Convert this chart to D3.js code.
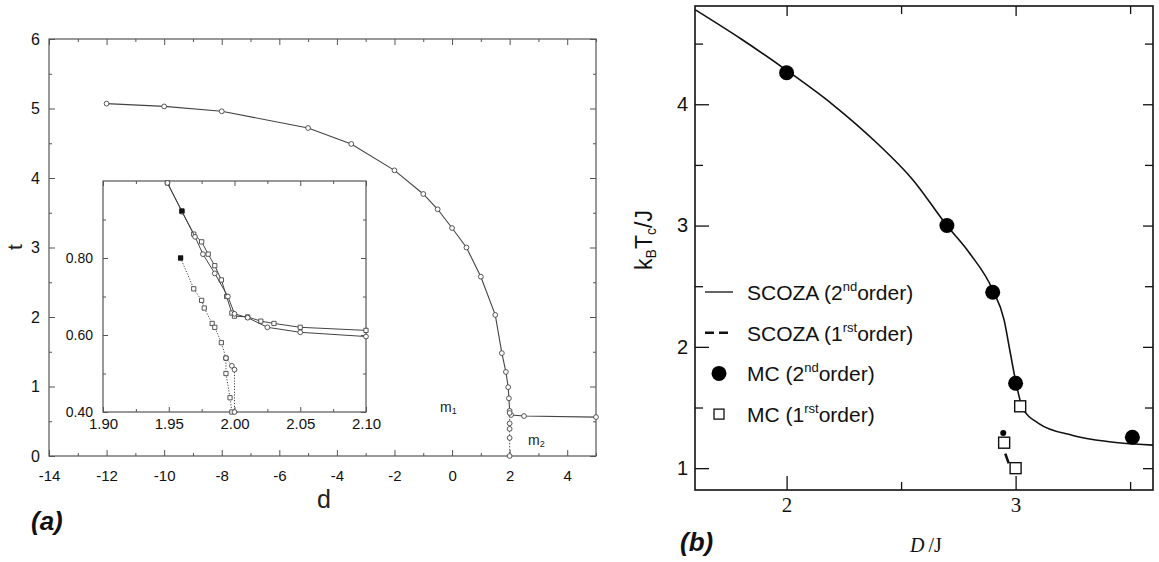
<!DOCTYPE html>
<html>
<head>
<meta charset="utf-8">
<script src="https://cdn.jsdelivr.net/npm/d3@7/dist/d3.min.js"></script>
<style>
  body { margin: 0; background: #fff; }
  svg text { font-family: "Liberation Sans", Arial, sans-serif; }
</style>
</head>
<body>
<div id="container"></div>
<script>
// ---- panel (a): t vs d ----
const mainD = [-12, -10, -8, -5, -3.5, -2, -1, -0.5, 0, 0.5, 1, 1.5, 1.73, 1.87, 1.95, 1.975, 2.0, 2.05, 2.5, 5];
const mainT = [5.07, 5.03, 4.96, 4.72, 4.49, 4.11, 3.77, 3.55, 3.28, 3.0, 2.58, 2.03, 1.48, 1.21, 0.99, 0.83, 0.65, 0.59, 0.575, 0.56];
const m2D = [2, 2, 2, 2, 2];
const m2T = [0.62, 0.47, 0.39, 0.26, 0];

// inset curves
const insAx = [1.949, 1.960, 1.969, 1.975, 1.980, 1.985, 1.990, 1.994, 1.998, 2.000, 2.010, 2.020, 2.030, 2.050, 2.100];
const insAy = [0.995, 0.922, 0.862, 0.842, 0.81, 0.78, 0.743, 0.70, 0.657, 0.649, 0.647, 0.636, 0.63, 0.62, 0.612];
const insBx = [1.949, 1.960, 1.970, 1.976, 1.985, 1.995, 2.000, 2.010, 2.025, 2.050, 2.100];
const insBy = [0.995, 0.92, 0.855, 0.81, 0.76, 0.70, 0.655, 0.645, 0.62, 0.607, 0.596];
const insCx = [1.959, 1.969, 1.975, 1.977, 1.983, 1.985, 1.990, 1.9935, 1.9935, 1.9966, 1.998];
const insCy = [0.80, 0.72, 0.69, 0.67, 0.63, 0.62, 0.58, 0.54, 0.50, 0.437, 0.40];
const insDx = [1.9935, 1.998, 2.000, 2.000];
const insDy = [0.54, 0.52, 0.51, 0.40];

// ---- panel (b): kBTc/J vs D/J ----
const scozaX = [1.6, 1.8, 2.0, 2.2, 2.4, 2.55, 2.7, 2.8, 2.9, 2.95, 2.975, 3.0, 3.03, 3.1, 3.25, 3.4, 3.6];
const scozaY = [4.78, 4.54, 4.28, 4.0, 3.67, 3.38, 3.0, 2.77, 2.47, 2.22, 1.97, 1.72, 1.50, 1.37, 1.27, 1.22, 1.19];
const scoza1X = [2.955, 2.97];
const scoza1Y = [1.12, 1.04];
const mc2X = [2.0, 2.7, 2.9, 3.0, 3.51];
const mc2Y = [4.26, 3.0, 2.45, 1.70, 1.255];
const mc1X = [3.02, 2.95, 3.0];
const mc1Y = [1.51, 1.21, 1.0];
const mcSmallX = [2.946];
const mcSmallY = [1.29];

const zip = (a, b) => a.map((v, i) => [v, b[i]]);
const plain = d => String(d);   // hyphen minus, as in the original

const svg = d3.select("#container").append("svg")
  .attr("width", 1159).attr("height", 562);

// draw a boxed frame with inward ticks on all four sides
function frame(x, y, o) {
  const g = svg.append("g");
  const [x0, x1] = x.range(), [y0, y1] = y.range();
  const sides = [
    [d3.axisBottom(x), `translate(0,${y0})`, o.xMajor, o.xMinor, true],
    [d3.axisTop(x), `translate(0,${y1})`, o.xMajor, o.xMinor, false],
    [d3.axisLeft(y), `translate(${x0},0)`, o.yMajor, o.yMinor, true],
    [d3.axisRight(y), `translate(${x1},0)`, o.yMajor, o.yMinor, false]
  ];
  sides.forEach(([ax, tr, major, minor, lab], i) => {
    const isX = i < 2;
    const a = g.append("g").attr("transform", tr)
      .call(ax.tickValues(minor).tickSize(-o.minorLen).tickFormat(""));
    a.select(".domain").remove();
    a.selectAll("line").attr("stroke", o.color).attr("stroke-width", o.tickW);
    const fmt = lab ? (isX ? o.fmtX : o.fmtY) : () => "";
    const len = lab ? o.majorLen : (o.majorLen2 || o.majorLen);
    const b = g.append("g").attr("transform", tr)
      .call(ax.tickValues(major).tickSize(-len)
        .tickPadding(isX ? o.padX : o.padY).tickFormat(fmt));
    b.select(".domain").remove();
    b.selectAll("line").attr("stroke", o.color).attr("stroke-width", o.tickW);
    b.selectAll("text")
      .attr("fill", "#111")
      .style("font-family", isX ? o.fontX : o.fontY)
      .style("font-size", (isX ? o.sizeX : o.sizeY) + "px");
  });
  g.append("rect")
    .attr("x", x0).attr("y", y1)
    .attr("width", x1 - x0).attr("height", y0 - y1)
    .attr("fill", "none").attr("stroke", o.color).attr("stroke-width", o.frameW);
  return g;
}

// ================= panel (a) =================
const xL = d3.scaleLinear().domain([-14, 5]).range([49, 596]);
const yL = d3.scaleLinear().domain([0, 6]).range([456, 39]);

frame(xL, yL, {
  xMajor: d3.range(-14, 5, 2), xMinor: d3.range(-13, 6, 2),
  yMajor: d3.range(0, 7, 1), yMinor: d3.range(0.5, 6, 1),
  majorLen: 6, minorLen: 3, padX: 14, padY: 9, tickW: 1, frameW: 1.2,
  color: "#555", fmtX: plain, fmtY: plain,
  fontX: "Liberation Sans", fontY: "Liberation Sans", sizeX: 15, sizeY: 16
});

const lineL = d3.line().x(d => xL(d[0])).y(d => yL(d[1]));
svg.append("path").datum(zip(mainD, mainT))
  .attr("d", lineL).attr("fill", "none").attr("stroke", "#444").attr("stroke-width", 1.1);
svg.append("path").datum(zip(m2D, m2T))
  .attr("d", lineL).attr("fill", "none").attr("stroke", "#555").attr("stroke-width", 1)
  .attr("stroke-dasharray", "1.5,1.5");
svg.append("g").selectAll("circle").data(zip(mainD, mainT).concat(zip(m2D, m2T)))
  .join("circle")
  .attr("cx", d => xL(d[0])).attr("cy", d => yL(d[1])).attr("r", 2.4)
  .attr("fill", "#fff").attr("stroke", "#444").attr("stroke-width", 0.9);

svg.append("text").attr("transform", "translate(22,247) rotate(-90)")
  .attr("text-anchor", "middle").style("font-size", "21px").attr("fill", "#222").text("t");
svg.append("text").attr("x", 324).attr("y", 508)
  .attr("text-anchor", "middle").style("font-size", "25px").attr("fill", "#222").text("d");
svg.append("text").attr("x", 31).attr("y", 530)
  .style("font-size", "26px").style("font-weight", "bold").style("font-style", "italic")
  .attr("fill", "#111").text("(a)");

const m1 = svg.append("text").attr("x", 440).attr("y", 412).style("font-size", "14px").attr("fill", "#222");
m1.append("tspan").text("m");
m1.append("tspan").attr("baseline-shift", "-25%").style("font-size", "9px").text("1");
const m2 = svg.append("text").attr("x", 528).attr("y", 445).style("font-size", "14px").attr("fill", "#222");
m2.append("tspan").text("m");
m2.append("tspan").attr("baseline-shift", "-25%").style("font-size", "9px").text("2");

// ---- inset ----
const xI = d3.scaleLinear().domain([1.9, 2.1]).range([103, 366]);
const yI = d3.scaleLinear().domain([0.4, 1.0]).range([412, 181]);

svg.append("rect").attr("x", 103).attr("y", 181).attr("width", 263).attr("height", 231).attr("fill", "#fff");
frame(xI, yI, {
  xMajor: [1.9, 1.95, 2.0, 2.05, 2.1], xMinor: [1.925, 1.975, 2.025, 2.075],
  yMajor: [0.4, 0.6, 0.8], yMinor: [0.5, 0.7, 0.9],
  majorLen: 5, minorLen: 3, padX: 6, padY: 10, tickW: 1, frameW: 1.2,
  color: "#555", fmtX: d3.format(".2f"), fmtY: d3.format(".2f"),
  fontX: "Liberation Sans", fontY: "Liberation Sans", sizeX: 15, sizeY: 14
});

const lineI = d3.line().x(d => xI(d[0])).y(d => yI(d[1]));
const insets = [
  [zip(insAx, insAy), null, "square"],
  [zip(insBx, insBy), null, "circle"],
  [zip(insCx, insCy), "1.2,1.6", "square"],
  [zip(insDx, insDy), "1.2,1.6", "circle"]
];
insets.forEach(([pts, dash, shape]) => {
  svg.append("path").datum(pts).attr("d", lineI)
    .attr("fill", "none").attr("stroke", "#444").attr("stroke-width", 1)
    .attr("stroke-dasharray", dash);
  svg.append("g").selectAll("path").data(pts).join("path")
    .attr("d", d3.symbol().type(shape === "square" ? d3.symbolSquare : d3.symbolCircle).size(18))
    .attr("transform", d => `translate(${xI(d[0])},${yI(d[1])})`)
    .attr("fill", "#fff").attr("stroke", "#444").attr("stroke-width", 0.9);
});
// filled markers at the start of the two branches
svg.append("g").selectAll("rect").data([[insAx[1], insAy[1]], [insCx[0], insCy[0]]]).join("rect")
  .attr("x", d => xI(d[0]) - 2.5).attr("y", d => yI(d[1]) - 2.5)
  .attr("width", 5).attr("height", 5).attr("fill", "#111");

// ================= panel (b) =================
const xR = d3.scaleLinear().domain([1.6, 3.6]).range([695, 1153]);
const yR = d3.scaleLinear().domain([0.82, 4.81]).range([490, 6]);

svg.append("defs").append("clipPath").attr("id", "clipR")
  .append("rect").attr("x", 695).attr("y", 6).attr("width", 458).attr("height", 484);

frame(xR, yR, {
  xMajor: [2, 3], xMinor: [2.5, 3.5],
  yMajor: [1, 2, 3, 4], yMinor: [1.5, 2.5, 3.5, 4.5],
  majorLen: 14, majorLen2: 10, minorLen: 8, padX: 7, padY: 7, tickW: 1.3, frameW: 1.6,
  color: "#111", fmtX: plain, fmtY: plain,
  fontX: "Liberation Serif", fontY: "Liberation Sans", sizeX: 21, sizeY: 20
});

const lineR = d3.line().x(d => xR(d[0])).y(d => yR(d[1]));
svg.append("path").datum(zip(scozaX, scozaY))
  .attr("clip-path", "url(#clipR)")
  .attr("d", lineR.curve(d3.curveMonotoneX))
  .attr("fill", "none").attr("stroke", "#111").attr("stroke-width", 1.6);
svg.append("path").datum(zip(scoza1X, scoza1Y))
  .attr("d", d3.line().x(d => xR(d[0])).y(d => yR(d[1])))
  .attr("fill", "none").attr("stroke", "#111").attr("stroke-width", 2.6);

svg.append("g").selectAll("circle").data(zip(mc2X, mc2Y)).join("circle")
  .attr("cx", d => xR(d[0])).attr("cy", d => yR(d[1])).attr("r", 7.5).attr("fill", "#000");
svg.append("g").selectAll("circle").data(zip(mcSmallX, mcSmallY)).join("circle")
  .attr("cx", d => xR(d[0])).attr("cy", d => yR(d[1])).attr("r", 3).attr("fill", "#000");
svg.append("g").selectAll("rect").data(zip(mc1X, mc1Y)).join("rect")
  .attr("x", d => xR(d[0]) - 5.5).attr("y", d => yR(d[1]) - 5.5)
  .attr("width", 11).attr("height", 11)
  .attr("fill", "#fff").attr("stroke", "#111").attr("stroke-width", 1.4);

// axis titles
const yt = svg.append("text").attr("transform", "translate(652,240) rotate(-90)")
  .attr("text-anchor", "middle").style("font-size", "23px").attr("fill", "#111");
yt.append("tspan").text("k");
yt.append("tspan").attr("baseline-shift", "-30%").style("font-size", "14px").text("B");
yt.append("tspan").text("T");
yt.append("tspan").attr("baseline-shift", "-30%").style("font-size", "14px").text("c");
yt.append("tspan").text("/J");

const xt = svg.append("text").attr("x", 926).attr("y", 552)
  .attr("text-anchor", "middle").style("font-family", "Liberation Serif")
  .style("font-size", "20px").attr("fill", "#111");
xt.append("tspan").style("font-style", "italic").text("D");
xt.append("tspan").attr("dx", 4).text("/J");

svg.append("text").attr("x", 680).attr("y", 551)
  .style("font-size", "26px").style("font-weight", "bold").style("font-style", "italic")
  .attr("fill", "#111").text("(b)");

// legend
const legendRows = [
  ["SCOZA (2", "nd", "order)", "line"],
  ["SCOZA (1", "rst", "order)", "dash"],
  ["MC (2", "nd", "order)", "dot"],
  ["MC (1", "rst", "order)", "square"]
];
const legend = svg.append("g").attr("transform", "translate(705,292)");
const items = legend.selectAll("g").data(legendRows).join("g")
  .attr("transform", (d, i) => `translate(0,${i * 40.7})`);
items.each(function(d) {
  const it = d3.select(this);
  if (d[3] === "line") {
    it.append("line").attr("x1", 0).attr("x2", 28).attr("stroke", "#111").attr("stroke-width", 1.3);
  } else if (d[3] === "dash") {
    it.append("line").attr("x1", 0).attr("x2", 28).attr("stroke", "#111")
      .attr("stroke-width", 2.6).attr("stroke-dasharray", "9,5");
  } else if (d[3] === "dot") {
    it.append("circle").attr("cx", 14).attr("r", 7.5).attr("fill", "#000");
  } else {
    it.append("rect").attr("x", 9).attr("y", -5).attr("width", 10).attr("height", 10)
      .attr("fill", "#fff").attr("stroke", "#111").attr("stroke-width", 1.3);
  }
  const t = it.append("text").attr("x", 42).attr("y", 8)
    .style("font-size", "21px").attr("fill", "#111");
  t.append("tspan").text(d[0]);
  t.append("tspan").attr("baseline-shift", "70%").style("font-size", "13px").text(d[1]);
  t.append("tspan").attr("baseline-shift", "0").text(d[2]);
});
</script>
</body>
</html>
